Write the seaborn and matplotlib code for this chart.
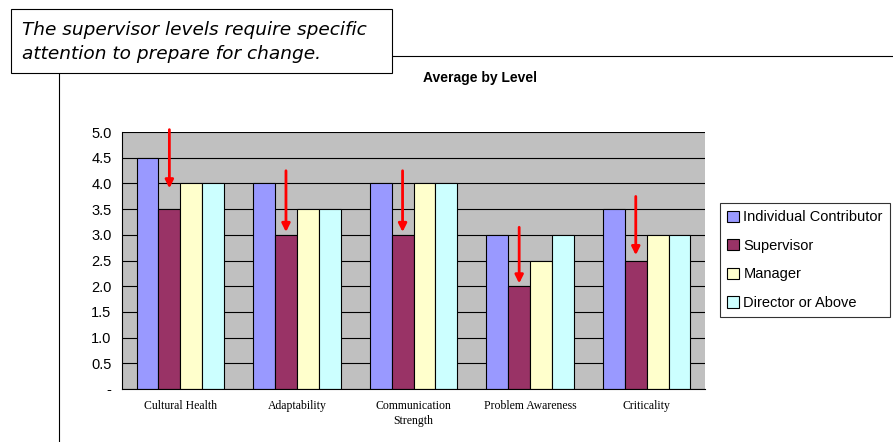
"""Average by Level - grouped bar chart with callout."""

import matplotlib.pyplot as plt
import pandas as pd
import seaborn as sns
from matplotlib.lines import Line2D
from matplotlib.patches import Rectangle
from matplotlib.ticker import FuncFormatter, MultipleLocator

# data
categories = [
    "Cultural Health",
    "Adaptability",
    "Communication\nStrength",
    "Problem Awareness",
    "Criticality",
]
levels = ["Individual Contributor", "Supervisor", "Manager", "Director or Above"]
individual = [4.5, 4.0, 4.0, 3.0, 3.5]
supervisor = [3.5, 3.0, 3.0, 2.0, 2.5]
manager = [4.0, 3.5, 4.0, 2.5, 3.0]
director = [4.0, 3.5, 4.0, 3.0, 3.0]
arrow_tail = [5.1, 4.3, 4.3, 3.2, 3.8]
arrow_tip = [3.85, 3.0, 3.0, 2.0, 2.55]
colors = ["#9999FF", "#993366", "#FFFFCC", "#CCFFFF"]

rows = []
for lvl, vals in zip(levels, [individual, supervisor, manager, director]):
    for cat, v in zip(categories, vals):
        rows.append({"category": cat, "level": lvl, "value": v})
df = pd.DataFrame(rows)

sns.set_style("white")
plt.rcParams["font.family"] = ["Liberation Sans", "DejaVu Sans"]
plt.rcParams["text.color"] = "black"
plt.rcParams["xtick.color"] = "black"
plt.rcParams["ytick.color"] = "black"

W, H = 893, 442
fig = plt.figure(figsize=(W / 100, H / 100), dpi=100)
ax = fig.add_axes([122 / W, 1 - 389 / H, 583 / W, 257 / H])
ax.set_facecolor("#C0C0C0")

sns.barplot(
    data=df,
    x="category",
    y="value",
    hue="level",
    hue_order=levels,
    order=categories,
    palette=colors,
    saturation=1,
    width=0.75,
    gap=0,
    edgecolor="black",
    linewidth=0.8,
    ax=ax,
    legend=True,
)

ax.set_xlim(-0.5, len(categories) - 0.5)
ax.set_ylim(0, 5)
ax.yaxis.set_major_locator(MultipleLocator(0.5))
ax.yaxis.set_major_formatter(FuncFormatter(lambda v, p: "-" if abs(v) < 1e-9 else f"{v:.1f}"))
ax.grid(axis="y", color="black", linewidth=0.8)
ax.set_axisbelow(True)
ax.set_xlabel("")
ax.set_ylabel("")

# tick marks between categories
ax.set_xticks([i + 0.5 for i in range(-1, len(categories))], minor=True)
ax.tick_params(axis="x", which="major", length=0, pad=8)
ax.tick_params(axis="x", which="minor", length=4, width=0.8, direction="out", color="black")
ax.tick_params(axis="y", length=4, width=0.8, direction="out", color="black", labelsize=10.5)
for lab in ax.get_xticklabels():
    lab.set_family("Liberation Serif")
    lab.set_fontsize(8.5)
    lab.set_linespacing(1.3)

for side in ["top", "right"]:
    ax.spines[side].set_visible(False)
for side in ["left", "bottom"]:
    ax.spines[side].set_color("black")
    ax.spines[side].set_linewidth(0.8)

# arrows pointing at supervisor bars
for bar, tail, tip in zip(ax.containers[1], arrow_tail, arrow_tip):
    xc = bar.get_x() + bar.get_width() / 2
    ax.annotate(
        "",
        xy=(xc, tip),
        xytext=(xc, tail),
        arrowprops=dict(arrowstyle="-|>", color="red", lw=2, mutation_scale=12),
        annotation_clip=False,
    )

# legend
handles, labels = ax.get_legend_handles_labels()
ax.legend_.remove()
leg = fig.legend(
    handles,
    labels,
    loc="upper left",
    bbox_to_anchor=(720 / W, 1 - 203 / H),
    frameon=True,
    fancybox=False,
    edgecolor="black",
    fontsize=10.5,
    handlelength=0.8,
    handleheight=0.8,
    handletextpad=0.3,
    labelspacing=1.0,
    borderpad=0.5,
    borderaxespad=0,
)
leg.get_frame().set_linewidth(0.8)

# title
fig.text(480 / W, 1 - 78 / H, "Average by Level", ha="center", va="center",
         fontsize=10, fontweight="bold")

# callout box and leader lines
fig.add_artist(Rectangle((11 / W, 1 - 73 / H), 381 / W, 64 / H, transform=fig.transFigure,
                         facecolor="white", edgecolor="black", linewidth=0.8))
fig.add_artist(Line2D([392 / W, 1], [1 - 56 / H, 1 - 56 / H], transform=fig.transFigure,
                      color="black", linewidth=0.8))
fig.add_artist(Line2D([59 / W, 59 / W], [1 - 73 / H, 0], transform=fig.transFigure,
                      color="black", linewidth=0.8))
fig.text(22 / W, 1 - 42 / H, "The supervisor levels require specific\nattention to prepare for change.",
         ha="left", va="center", fontsize=13.3, fontstyle="italic",
         family="DejaVu Sans", linespacing=1.4)

fig.savefig("out.png", dpi=100)
